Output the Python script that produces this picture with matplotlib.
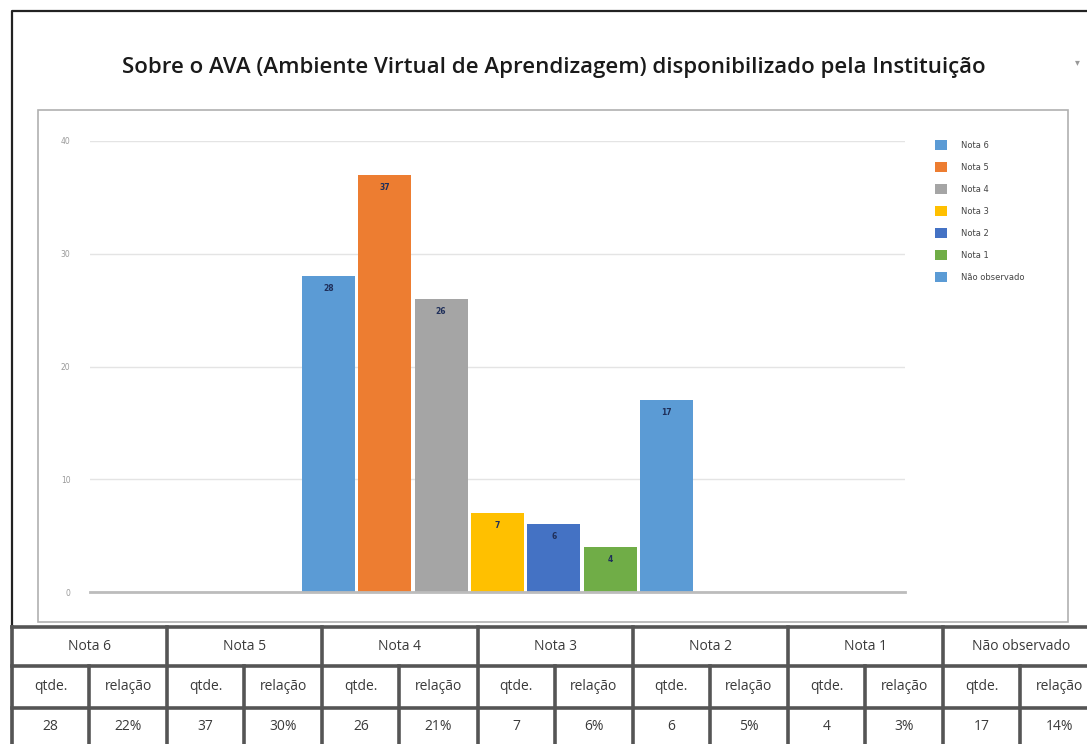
import matplotlib
matplotlib.use("Agg")
import matplotlib.pyplot as plt
import numpy as np
from matplotlib.patches import Rectangle

# data
categories = ["Nota 6", "Nota 5", "Nota 4", "Nota 3", "Nota 2", "Nota 1", "Não observado"]
counts = [28, 37, 26, 7, 6, 4, 17]
shares = ["22%", "30%", "21%", "6%", "5%", "3%", "14%"]
colors = ["#5B9BD5", "#ED7D31", "#A5A5A5", "#FFC000", "#4472C4", "#70AD47", "#5B9BD5"]
yticks = [0, 10, 20, 30, 40]
title = "Sobre o AVA (Ambiente Virtual de Aprendizagem) disponibilizado pela Instituição"

W, H = 1087, 744
fig = plt.figure(figsize=(W / 100, H / 100), dpi=100)
fig.patch.set_facecolor("white")

# background layer in pixel coordinates
bg = fig.add_axes([0, 0, 1, 1], zorder=0)
bg.set_xlim(0, W)
bg.set_ylim(H, 0)
bg.set_axis_off()

# outer frame and inner chart box
bg.plot([12, 12, W], [H, 11, 11], color="#222222", lw=1.6)
bg.add_patch(Rectangle((38, 110), 1068 - 38, 622 - 110, fill=False,
                       ec="#b0b0b0", lw=1.2))
bg.text(554, 68, title, ha="center", va="center", fontsize=16,
        family="Open Sans", fontweight="semibold", color="#1a1a1a")
bg.text(1077, 62, "▾", ha="center", va="center", fontsize=7, color="#999999")


def fx(px):
    return px / W


def fy(py):
    return 1 - py / H


# chart
ax = fig.add_axes([fx(90), fy(592), fx(905) - fx(90), fy(141) - fy(592)], zorder=1)
ax.patch.set_alpha(0)
n = len(counts)
step = 0.0692
width = 0.065
offsets = (np.arange(n) - (n - 1) / 2) * step
for i in range(n):
    ax.bar(offsets[i], counts[i], width=width, color=colors[i],
           label=categories[i], zorder=2)
    ax.text(offsets[i], counts[i] - 0.7, str(counts[i]), ha="center", va="top",
            fontsize=5.5, fontweight="bold", color="#1f2f5a", zorder=3)
ax.set_xlim(-0.5, 0.5)
ax.set_ylim(0, 40)
ax.set_yticks(yticks)
ax.set_yticklabels([str(t) for t in yticks], fontsize=5.5, color="#9a9a9a")
ax.tick_params(axis="y", length=0, pad=14)
ax.set_xticks([])
ax.grid(axis="y", color="#e4e4e4", lw=1, zorder=0)
for s in ["top", "right", "left"]:
    ax.spines[s].set_visible(False)
ax.spines["bottom"].set_color("#bcbcbc")
ax.spines["bottom"].set_linewidth(2)

leg = ax.legend(loc="upper left", bbox_to_anchor=(fx(935), fy(140)),
                bbox_transform=fig.transFigure,
                frameon=False, fontsize=6, handlelength=1.45, handleheight=1.45,
                labelspacing=1.45, handletextpad=1.7, borderaxespad=0, borderpad=0)
for t in leg.get_texts():
    t.set_color("#444444")

# table below the chart
col_edges = [12 + 155.2 * k for k in range(8)]
rows = [627, 666, 708, 750]
line_c = "#555555"
for y in rows[:3]:
    bg.plot([12, W], [y, y], color=line_c, lw=2.6)
for x in col_edges:
    bg.plot([x, x], [rows[0], H], color=line_c, lw=2.6)
tkw = dict(ha="center", va="center", fontsize=10, family="Open Sans", color="#3a3a3a")
for k in range(7):
    mid = col_edges[k] + 77
    bg.plot([mid, mid], [rows[1], H], color=line_c, lw=2.6)
    gx = (col_edges[k] + col_edges[k + 1]) / 2
    bg.text(gx, (rows[0] + rows[1]) / 2, categories[k], **tkw)
    qx = (col_edges[k] + mid) / 2
    rx = (mid + col_edges[k + 1]) / 2
    bg.text(qx, (rows[1] + rows[2]) / 2, "qtde.", **tkw)
    bg.text(rx, (rows[1] + rows[2]) / 2, "relação", **tkw)
    bg.text(qx, 726, str(counts[k]), **tkw)
    bg.text(rx, 726, shares[k], **tkw)

fig.savefig("out.png", dpi=100, facecolor="white")
